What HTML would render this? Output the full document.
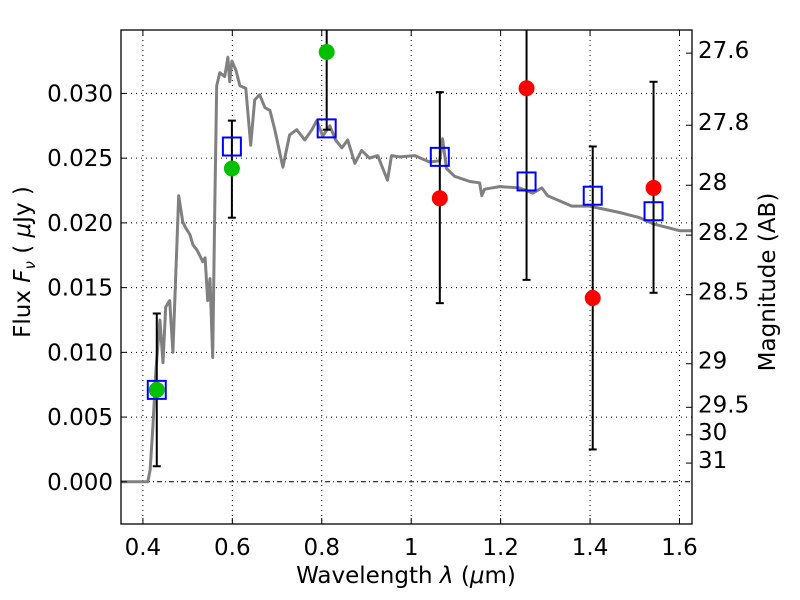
<!DOCTYPE html>
<html><head><meta charset="utf-8"><style>
body{margin:0;background:#fff;}
svg{display:block;font-family:"DejaVu Sans","Liberation Sans",sans-serif;}
</style></head><body>
<svg id="chart" width="800" height="600" viewBox="0 0 800 600" xmlns="http://www.w3.org/2000/svg">
<rect width="800" height="600" fill="#fff"/>
<g id="grid"></g><g id="series"></g><g id="axes"></g>
<text x="406" y="583" font-size="23" text-anchor="middle">Wavelength  <tspan font-style="italic">λ</tspan> (<tspan font-style="italic">μ</tspan>m)</text>
<text transform="translate(30,262) rotate(-90)" font-size="23" text-anchor="middle">Flux  <tspan font-style="italic">F</tspan><tspan font-style="italic" font-size="15" dy="5">ν</tspan><tspan dy="-5">  (  </tspan><tspan font-style="italic">μ</tspan>Jy )</text>
<text transform="translate(775,282) rotate(-90)" font-size="23" text-anchor="middle">Magnitude (AB)</text>
</svg>
<script>
const sedWave=[0.351,0.411,0.416,0.422,0.429,0.438,0.445,0.451,0.460,0.467,0.480,0.489,0.496,0.505,0.512,0.521,0.527,0.534,0.539,0.545,0.550,0.556,0.561,0.565,0.572,0.583,0.590,0.594,0.599,0.608,0.617,0.630,0.641,0.650,0.661,0.673,0.684,0.695,0.713,0.728,0.744,0.762,0.778,0.789,0.802,0.818,0.831,0.845,0.858,0.874,0.889,0.907,0.925,0.947,0.956,0.974,1.008,1.041,1.064,1.070,1.079,1.097,1.131,1.153,1.158,1.164,1.198,1.242,1.272,1.292,1.305,1.332,1.359,1.399,1.466,1.511,1.544,1.578,1.600,1.627];
const sedFlux=[0,0,0.0009,0.0040,0.0086,0.0125,0.0092,0.0135,0.0140,0.0100,0.0221,0.0201,0.0196,0.0191,0.0183,0.0179,0.0175,0.0170,0.0173,0.0140,0.0157,0.0096,0.0218,0.0306,0.0316,0.0313,0.0328,0.0309,0.0325,0.0318,0.0306,0.0304,0.0260,0.0295,0.0299,0.0289,0.0287,0.0272,0.0243,0.0268,0.0272,0.0264,0.0272,0.0279,0.0267,0.0275,0.0264,0.0258,0.0264,0.0246,0.0256,0.0250,0.0252,0.0233,0.0252,0.0251,0.0252,0.0247,0.0248,0.0265,0.0242,0.0236,0.0232,0.0231,0.0221,0.0226,0.0228,0.0227,0.0223,0.0227,0.0221,0.0217,0.0213,0.0213,0.0208,0.0204,0.0199,0.0196,0.0194,0.0194];
const bandWave=[0.431,0.599,0.811,1.064,1.258,1.406,1.542];
const modelFlux=[0.0071,0.0259,0.0273,0.0251,0.0232,0.0221,0.0209];
const errLo=[0.0012,0.0204,0.0272,0.0138,0.0156,0.0025,0.0146];
const errHi=[0.0130,0.0279,0.0450,0.0301,0.0450,0.0259,0.0309];
const greenWave=[0.431,0.599,0.811];
const greenFlux=[0.0071,0.0242,0.0332];
const redWave=[1.064,1.258,1.406,1.542];
const redFlux=[0.0219,0.0304,0.0142,0.0227];
const xTicks=[0.4,0.6,0.8,1.0,1.2,1.4,1.6];
const xTickLabels=["0.4","0.6","0.8","1","1.2","1.4","1.6"];
const yTicks=[0,0.005,0.010,0.015,0.020,0.025,0.030];
const yTickLabels=["0.000","0.005","0.010","0.015","0.020","0.025","0.030"];
const magTicks=[27.6,27.8,28,28.2,28.5,29,29.5,30,31];
const magLabels=["27.6","27.8","28","28.2","28.5","29","29.5","30","31"];

const L=121,R=692,T=30,B=524;
const xmin=0.351,xmax=1.628,ymin=-0.00326,ymax=0.0349;
const X=v=>L+(v-xmin)/(xmax-xmin)*(R-L);
const Y=v=>B-(v-ymin)/(ymax-ymin)*(B-T);
const NS="http://www.w3.org/2000/svg";
function mk(parent,tag,attrs){const e=document.createElementNS(NS,tag);for(const k in attrs)e.setAttribute(k,attrs[k]);document.getElementById(parent).appendChild(e);return e;}
const cl=v=>Math.max(T,Math.min(B,v));

xTicks.forEach((t,i)=>{
  const g=mk('grid','line',{x1:X(t),x2:X(t),y1:T,y2:B,stroke:'#000','stroke-width':1,'stroke-dasharray':'1,4'});
  
  
  const tk=mk('axes','line',{x1:X(t),x2:X(t),y1:B,y2:B-6,stroke:'#000'});
  
  
  const tk2=mk('axes','line',{x1:X(t),x2:X(t),y1:T,y2:T+6,stroke:'#000'});
  
  
  const lb=mk('axes','text',{x:X(t),y:B+31,'font-size':23,'text-anchor':'middle'});
  lb.textContent=xTickLabels[i];
  
  
});
yTicks.forEach((t,i)=>{
  const g=mk('grid','line',{x1:L,x2:R,y1:Y(t),y2:Y(t),stroke:'#000','stroke-width':1,'stroke-dasharray':t===0?'5,3,1,3':'1,4'});
  
  
  const tk=mk('axes','line',{x1:L,x2:L+6,y1:Y(t),y2:Y(t),stroke:'#000'});
  
  
  const lb=mk('axes','text',{x:L-8,y:Y(t)+8,'font-size':23,'text-anchor':'end'});
  lb.textContent=yTickLabels[i];
  
  
});
magTicks.forEach((m,i)=>{
  const f=Math.pow(10,(23.9-m)/2.5);
  const y=Y(f);
  const tk=mk('axes','line',{x1:R,x2:R-6,y1:y,y2:y,stroke:'#000'});
  
  
  const lb=mk('axes','text',{x:R+6,y:y+5,'font-size':23,'text-anchor':'start'});
  lb.textContent=magLabels[i];
  
  
});

let d='';
sedWave.forEach((w,i)=>{d+=(i?'L':'M')+X(w).toFixed(1)+','+Y(sedFlux[i]).toFixed(1);});
const sed=mk('series','path',{d:d,fill:'none',stroke:'#808080','stroke-width':3,'stroke-linejoin':'round'});



bandWave.forEach((w,i)=>{
  const x=X(w),y1=Y(errHi[i]),y2=Y(errLo[i]);
  const ln=mk('series','line',{x1:x,x2:x,y1:cl(y1),y2:cl(y2),stroke:'#000','stroke-width':2});
  
  
  [y1,y2].forEach(y=>{if(y>=T&&y<=B){const c=mk('series','line',{x1:x-4,x2:x+4,y1:y,y2:y,stroke:'#000','stroke-width':2});
    
    }});
});
greenWave.forEach((w,i)=>{
  const c=mk('series','circle',{cx:X(w),cy:Y(greenFlux[i]),r:8,fill:'#00c000'});
  
  
});
redWave.forEach((w,i)=>{
  const c=mk('series','circle',{cx:X(w),cy:Y(redFlux[i]),r:8,fill:'#ff0000'});
  
  
});
bandWave.forEach((w,i)=>{
  const r=mk('series','rect',{x:X(w)-9,y:Y(modelFlux[i])-9,width:18,height:18,fill:'none',stroke:'#0000ff','stroke-width':2});
  
  
});
const fr=mk('axes','rect',{x:L,y:T,width:R-L,height:B-T,fill:'none',stroke:'#000','stroke-width':1.3});


</script>
</body></html>
